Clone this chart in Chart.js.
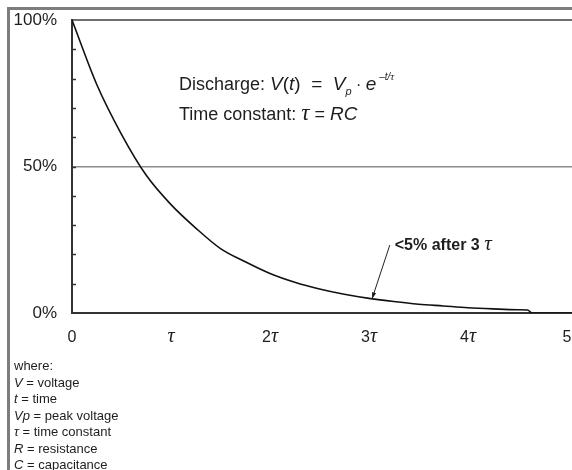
<!DOCTYPE html>
<html lang="en">
<head>
<meta charset="UTF-8">
<title>RC discharge</title>
<script src="https://cdn.jsdelivr.net/npm/chart.js@4.4.1/dist/chart.umd.min.js"></script>
<style>
  html, body { margin: 0; padding: 0; background: #fff; }
  #wrap { position: relative; width: 572px; height: 470px; }
</style>
</head>
<body>
<div id="wrap"><canvas id="rcChart" width="572" height="470"></canvas></div>
<script>
// time in units of tau, voltage in % of peak
var tValues = [0, 0.25, 0.5, 0.75, 1, 1.25, 1.5, 1.75, 2, 2.25, 2.5, 2.75, 3, 3.25, 3.5, 3.75, 4, 4.25, 4.5, 4.6, 4.65, 5.05];
var vValues = [100, 78, 61, 47, 37, 29, 22, 17.5, 13.5, 10.5, 8.2, 6.4, 5, 3.9, 3, 2.4, 1.8, 1.4, 1.1, 1, 0, 0];

var xTickValues = [0, 1, 2, 3, 4, 5];
var xTickNumbers = ['0', '', '2', '3', '4', '5'];
var xTickTau = [false, true, true, true, true, false];
var yTickValues = [0, 10, 20, 30, 40, 50, 60, 70, 80, 90, 100];
var yLabelValues = [0, 50, 100];

var legendLines = [
    ['', 'where:'],
    ['V', ' = voltage'],
    ['t', ' = time'],
    ['Vp', ' = peak voltage'],
    ['τ', ' = time constant'],
    ['R', ' = resistance'],
    ['C', ' = capacitance']
];

var SANS = "'Liberation Sans', Arial, Helvetica, sans-serif";
var SERIF = "'Liberation Serif', 'Times New Roman', serif";
var TXT = '#1e1e1e';

// a run is [text, style, size, dy, family]
function runFont(r) {
    return (r[1] || '') + ' ' + r[2] + 'px ' + (r[4] || SANS);
}
function runsWidth(ctx, runs) {
    var w = 0;
    runs.forEach(function (r) { ctx.font = runFont(r); w += ctx.measureText(r[0]).width; });
    return w;
}
function drawRuns(ctx, x, y, runs) {
    runs.forEach(function (r) {
        ctx.font = runFont(r);
        ctx.fillText(r[0], x, y + (r[3] || 0));
        x += ctx.measureText(r[0]).width;
    });
}

var extras = {
    id: 'extras',
    beforeDraw: function (chart) {
        var ctx = chart.ctx;
        ctx.save();
        ctx.fillStyle = '#fff';
        ctx.fillRect(0, 0, chart.width, chart.height);
        // grey frame, top and left
        ctx.fillStyle = '#7d7d7d';
        ctx.fillRect(7, 7, chart.width - 7, 3);
        ctx.fillRect(7, 7, 3, chart.height - 7);
        ctx.restore();
    },
    afterDraw: function (chart) {
        var ctx = chart.ctx, xs = chart.scales.x, ys = chart.scales.y;
        var area = chart.chartArea;
        ctx.save();

        // small inward ticks on the y axis
        ctx.strokeStyle = '#333';
        ctx.lineWidth = 1.5;
        yTickValues.forEach(function (v) {
            if (v === 0 || v === 100) return;
            var py = Math.round(ys.getPixelForValue(v)) + 0.5;
            ctx.beginPath();
            ctx.moveTo(area.left, py);
            ctx.lineTo(area.left + 4, py);
            ctx.stroke();
        });

        ctx.fillStyle = TXT;
        ctx.textBaseline = 'alphabetic';
        ctx.textAlign = 'left';

        // x tick labels: digits in sans, tau in serif italic
        xTickValues.forEach(function (v, i) {
            var runs = [[xTickNumbers[i], '', 16]];
            if (xTickTau[i]) runs.push(['τ', 'italic', 20, 0, SERIF]);
            var w = runsWidth(ctx, runs);
            drawRuns(ctx, xs.getPixelForValue(v) - w / 2, area.bottom + 29, runs);
        });

        // formulas
        var ex = xs.getPixelForValue(1.08);
        drawRuns(ctx, ex, ys.getPixelForValue(76), [
            ['Discharge: ', '', 18], ['V', 'italic', 19], ['(', '', 19], ['t', 'italic', 19],
            [')  =  ', '', 19], ['V', 'italic', 19], ['p', 'italic', 11, 5], [' · ', '', 16],
            ['e', 'italic', 19], [' –t/', 'italic', 10, -10], ['τ', 'italic', 11, -10, SERIF]
        ]);
        drawRuns(ctx, ex, ys.getPixelForValue(66), [
            ['Time constant: ', '', 18], ['τ', 'italic', 23, 0, SERIF], [' = ', '', 18], ['RC', 'italic', 19]
        ]);

        // note and arrow
        drawRuns(ctx, xs.getPixelForValue(3.26), ys.getPixelForValue(21.5), [
            ['<5% after 3 ', 'bold', 16], ['τ', 'italic', 21, 0, SERIF]
        ]);
        var x0 = xs.getPixelForValue(3.21), y0 = ys.getPixelForValue(23.2);
        var x1 = xs.getPixelForValue(3.03), y1 = ys.getPixelForValue(4.8);
        ctx.strokeStyle = '#222';
        ctx.lineWidth = 1;
        ctx.beginPath();
        ctx.moveTo(x0, y0);
        ctx.lineTo(x1, y1);
        ctx.stroke();
        var a = Math.atan2(y1 - y0, x1 - x0);
        ctx.beginPath();
        ctx.moveTo(x1, y1);
        ctx.lineTo(x1 - 7 * Math.cos(a - 0.3), y1 - 7 * Math.sin(a - 0.3));
        ctx.lineTo(x1 - 7 * Math.cos(a + 0.3), y1 - 7 * Math.sin(a + 0.3));
        ctx.closePath();
        ctx.fill();

        // legend block under the axis
        legendLines.forEach(function (l, i) {
            drawRuns(ctx, 14, 370 + i * 16.5, [[l[0], 'italic', 13], [l[1], '', 13]]);
        });
        ctx.restore();
    }
};

new Chart(document.getElementById('rcChart'), {
    type: 'line',
    data: {
        datasets: [{
            data: tValues.map(function (t, i) { return { x: t, y: vValues[i] }; }),
            borderColor: '#111',
            borderWidth: 1.6,
            pointRadius: 0,
            cubicInterpolationMode: 'monotone',
            fill: false
        }]
    },
    options: {
        responsive: false,
        animation: false,
        devicePixelRatio: 1,
        layout: { padding: { left: 10, top: 20, right: 0, bottom: 0 } },
        plugins: { legend: { display: false }, tooltip: { enabled: false } },
        scales: {
            x: {
                type: 'linear',
                min: 0,
                max: 5.05,
                afterBuildTicks: function (s) { s.ticks = xTickValues.map(function (v) { return { value: v }; }); },
                afterFit: function (s) { s.height = 157; s.paddingLeft = 0; s.paddingRight = 0; },
                grid: { display: false, drawTicks: false },
                border: { display: true, color: '#333', width: 2 },
                ticks: {
                    autoSkip: false,
                    maxRotation: 0,
                    callback: function () { return ''; }
                }
            },
            y: {
                min: 0,
                max: 100,
                afterBuildTicks: function (s) { s.ticks = yTickValues.map(function (v) { return { value: v }; }); },
                afterFit: function (s) { s.width = 62; s.paddingTop = 0; s.paddingBottom = 0; },
                grid: {
                    drawTicks: false,
                    color: function (c) {
                        if (c.tick.value === 50) return '#8c8c8c';
                        if (c.tick.value === 100) return '#6f6f6f';
                        return 'rgba(0,0,0,0)';
                    },
                    lineWidth: function (c) { return c.tick.value === 100 ? 2 : 1.5; }
                },
                border: { display: true, color: '#333', width: 2 },
                ticks: {
                    padding: 15,
                    color: TXT,
                    font: { family: SANS, size: 17 },
                    callback: function (v) { return yLabelValues.indexOf(v) >= 0 ? v + '%' : ''; }
                }
            }
        }
    },
    plugins: [extras]
});
</script>
</body>
</html>
